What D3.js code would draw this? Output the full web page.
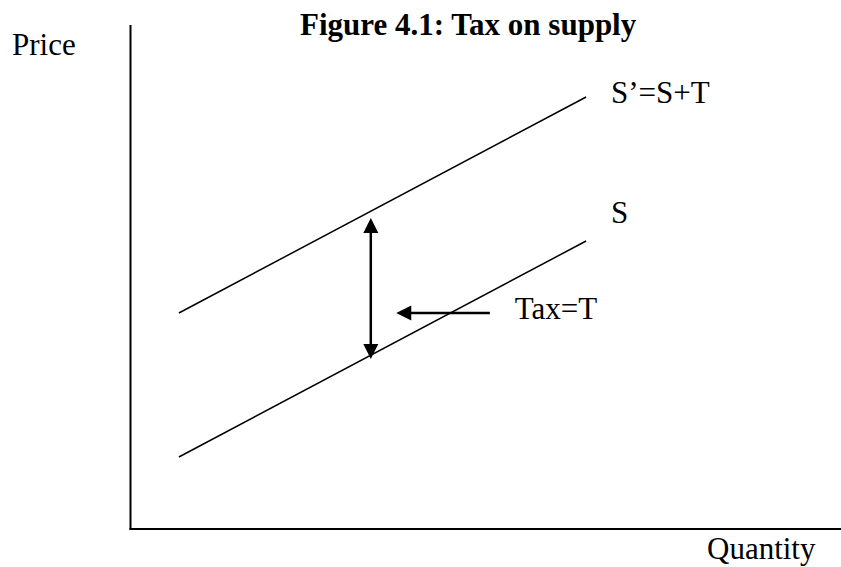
<!DOCTYPE html>
<html><head><meta charset="utf-8">
<script src="https://cdn.jsdelivr.net/npm/d3@7"></script>
<style>html,body{margin:0;padding:0;background:#fff;}svg{display:block;}</style>
</head><body>
<svg id="chart" width="841" height="567"></svg>
<script>
// Data (quantity, price units)
const supplyQ = [1, 9];
const supplyS = [2, 8];            // S
const supplyS2 = [6, 12];          // S' = S + T
const taxArrowQ = 4.77;            // vertical double arrow position
const taxArrowP = [4.72, 8.64];    // bottom tip, top tip
const pointerQ = [7.11, 5.27];     // horizontal arrow: tail -> tip
const pointerP = 6;
const labels = [
  {text: "S\u2019=S+T", q: 9.49, p: 11.83},
  {text: "S", q: 9.49, p: 8.5},
  {text: "Tax=T", q: 7.6, p: 5.833}
];
const titleText = "Figure 4.1: Tax on supply";
const yLabel = "Price";
const xLabel = "Quantity";

const svg = d3.select("#chart");
const x = d3.scaleLinear().domain([0, 14]).range([128, 128 + 14 * 50.9]);
const y = d3.scaleLinear().domain([0, 14]).range([529, 529 - 14 * 36]);
const font = "'Liberation Serif','Times New Roman',serif";

// axes (plain lines, no ticks)
svg.append("line").attr("x1", 130.5).attr("x2", 130.5).attr("y1", 25).attr("y2", y(0) + 1)
  .attr("stroke", "#000").attr("stroke-width", 2);
svg.append("line").attr("x1", 129.5).attr("x2", 841).attr("y1", y(0)).attr("y2", y(0))
  .attr("stroke", "#000").attr("stroke-width", 2);

const line = d3.line().x(d => x(d[0])).y(d => y(d[1]));
[supplyS, supplyS2].forEach(s => {
  svg.append("path").datum(supplyQ.map((q, i) => [q, s[i]]))
    .attr("d", line).attr("fill", "none").attr("stroke", "#000").attr("stroke-width", 1.5);
});

// arrowhead helper: tip at (tx,ty), pointing in direction (dx,dy)
const headLen = 15, headHalf = 7.5;
function head(tx, ty, dx, dy) {
  const bx = tx - dx * headLen, by = ty - dy * headLen;
  const px = -dy * headHalf, py = dx * headHalf;
  svg.append("path")
    .attr("d", `M${tx},${ty}L${bx + px},${by + py}L${bx - px},${by - py}Z`)
    .attr("fill", "#000");
}

// vertical double arrow
const vx = x(taxArrowQ), vb = y(taxArrowP[0]), vt = y(taxArrowP[1]);
svg.append("line").attr("x1", vx).attr("x2", vx).attr("y1", vt + 8).attr("y2", vb - 8)
  .attr("stroke", "#000").attr("stroke-width", 2.5);
head(vx, vt, 0, -1);
head(vx, vb, 0, 1);

// horizontal pointer arrow
const hy = y(pointerP), hTail = x(pointerQ[0]), hTip = x(pointerQ[1]);
svg.append("line").attr("x1", hTail).attr("x2", hTip + 8).attr("y1", hy).attr("y2", hy)
  .attr("stroke", "#000").attr("stroke-width", 2.5);
head(hTip, hy, -1, 0);

// labels
svg.selectAll("text.lab").data(labels).enter().append("text")
  .attr("class", "lab").attr("x", d => x(d.q)).attr("y", d => y(d.p))
  .attr("font-family", font).attr("font-size", 31).text(d => d.text);

svg.append("text").attr("x", 300).attr("y", 35).attr("font-family", font)
  .attr("font-size", 31).attr("font-weight", "bold").text(titleText);
svg.append("text").attr("x", 12).attr("y", 55).attr("font-family", font)
  .attr("font-size", 31).text(yLabel);
svg.append("text").attr("x", 707).attr("y", 559).attr("font-family", font)
  .attr("font-size", 31).text(xLabel);
</script>
</body></html>
